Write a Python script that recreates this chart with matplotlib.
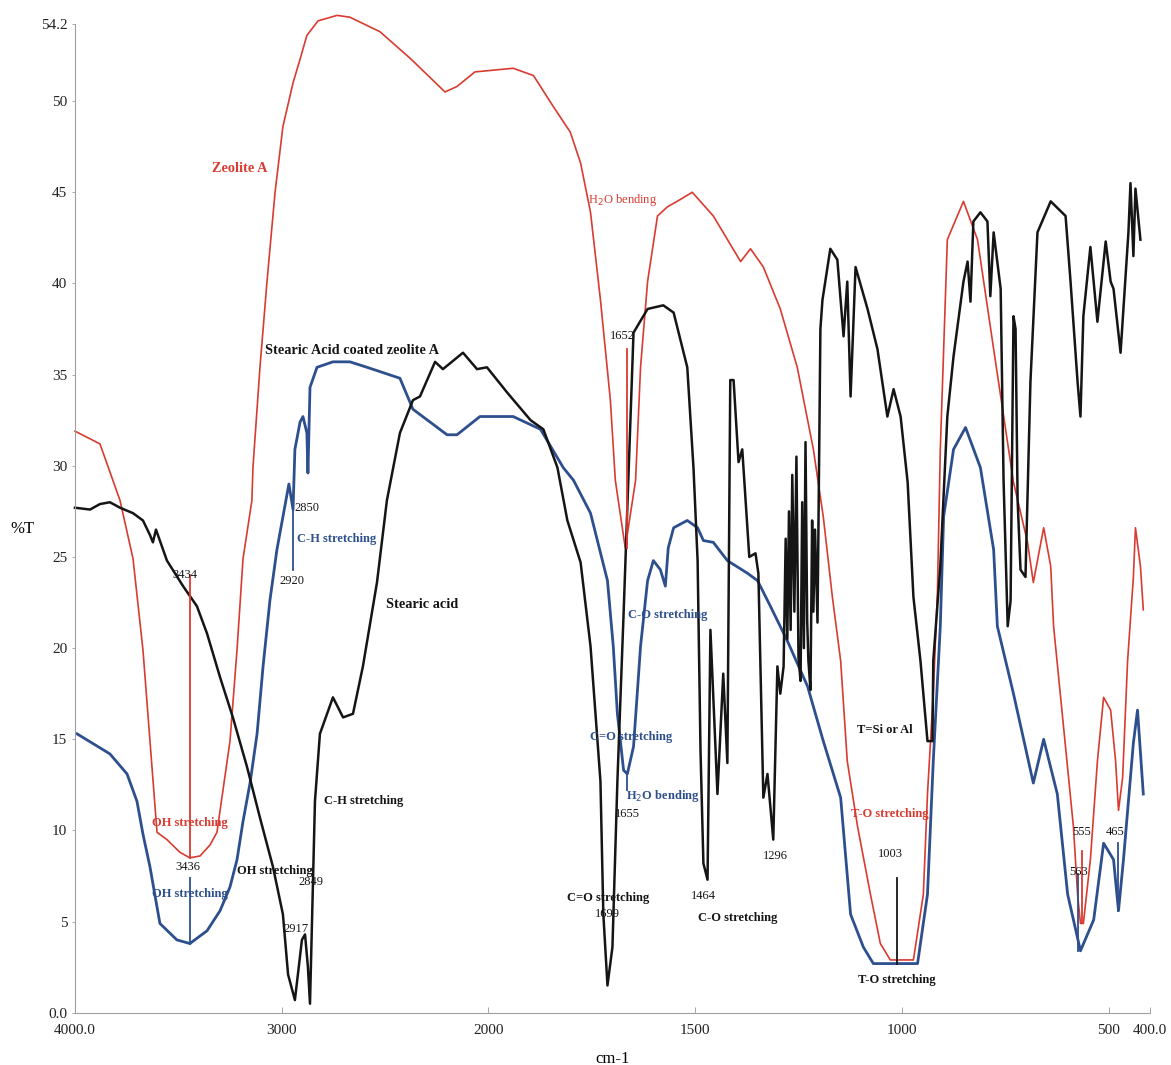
import numpy as np
import matplotlib
matplotlib.use("Agg")
import matplotlib.pyplot as plt

plt.rcParams['font.family'] = ['Liberation Serif', 'DejaVu Serif']

# Zeolite A (red)
zeo_wn = [4000, 3879, 3782, 3719, 3671, 3637, 3603, 3555, 3492, 3444, 3395, 3347, 3313,
          3250, 3216, 3187, 3144, 3139, 3105, 3071, 3032, 2994, 2945, 2911, 2878, 2824,
          2732, 2670, 2524, 2394, 2365, 2210, 2152, 2065, 1940, 1891, 1843, 1802, 1777,
          1753, 1729, 1705, 1693, 1669, 1644, 1632, 1615, 1591, 1567, 1536, 1507, 1456,
          1390, 1366, 1335, 1294, 1253, 1214, 1190, 1168, 1148, 1132, 1107, 1076, 1052,
          1028, 972, 948, 938, 924, 914, 907, 890, 851, 817, 778, 730, 696, 682, 657,
          640, 633, 609, 585, 575, 568, 561, 544, 527, 512, 495, 483, 476, 466, 454,
          440, 435, 423, 416]
zeo_t = [31.9, 31.2, 28.1, 24.9, 19.9, 14.9, 9.9, 9.5, 8.8, 8.5, 8.6, 9.2, 9.9,
         14.9, 19.9, 24.9, 28.1, 29.9, 35.4, 40.1, 45.0, 48.6, 51.0, 52.3, 53.6, 54.4,
         54.7, 54.6, 53.8, 52.5, 52.2, 50.5, 50.8, 51.6, 51.8, 51.4, 49.7, 48.3, 46.6,
         43.9, 39.1, 33.6, 29.2, 25.5, 29.2, 35.4, 40.1, 43.7, 44.2, 44.6, 45.0, 43.7,
         41.2, 41.9, 40.9, 38.6, 35.4, 30.9, 27.2, 22.8, 19.3, 13.8, 10.2, 6.5, 3.8,
         2.9, 2.9, 6.5, 12.0, 17.5, 23.0, 30.9, 42.4, 44.5, 42.4, 36.4, 29.1, 25.8, 23.6, 26.6,
         24.5, 21.2, 15.7, 10.2, 6.5, 4.9, 4.9, 8.4, 13.8, 17.3, 16.6, 13.8, 11.1, 12.9, 19.3,
         23.9, 26.6, 24.5, 22.1]

# Stearic acid coated zeolite A (blue)
coat_wn = [3990, 3831, 3748, 3700, 3671, 3637, 3589, 3507, 3444, 3361, 3298, 3250, 3216,
           3187, 3153, 3119, 3090, 3057, 3023, 2994, 2965, 2945, 2936, 2911, 2897, 2878,
           2873, 2863, 2829, 2752, 2670, 2587, 2428, 2365, 2200, 2152, 2041, 1940, 1874,
           1819, 1794, 1753, 1712, 1698, 1688, 1673, 1664, 1649, 1632, 1615, 1601, 1584,
           1572, 1565, 1552, 1519, 1494, 1480, 1456, 1422, 1373, 1349, 1318, 1277, 1228,
           1190, 1148, 1124, 1093, 1069, 962, 938, 924, 907, 899, 875, 846, 810, 778, 769,
           730, 682, 657, 624, 599, 568, 536, 512, 488, 476, 464, 440, 430, 416]
coat_t = [15.3, 14.2, 13.1, 11.6, 9.8, 8.0, 4.9, 4.0, 3.8, 4.5, 5.6, 6.9, 8.4,
          10.5, 12.6, 15.3, 19.0, 22.6, 25.4, 27.2, 29.0, 27.6, 30.9, 32.4, 32.7, 31.8,
          29.6, 34.3, 35.4, 35.7, 35.7, 35.4, 34.8, 33.1, 31.7, 31.7, 32.7, 32.7, 32.0,
          29.9, 29.2, 27.4, 23.7, 20.1, 16.4, 13.3, 13.1, 14.6, 20.1, 23.7, 24.8, 24.3,
          23.4, 25.5, 26.6, 27.0, 26.6, 25.9, 25.8, 24.8, 24.1, 23.7, 22.3, 20.4, 17.9,
          14.9, 11.8, 5.4, 3.6, 2.7, 2.7, 6.5, 13.8, 21.2, 27.2, 30.9, 32.1, 29.9, 25.4, 21.2,
          17.5, 12.6, 15.0, 12.0, 6.5, 3.4, 5.1, 9.3, 8.4, 5.6, 8.4, 14.8, 16.6, 12.0]

# Stearic acid (black)
sa_wn = [4000, 3927, 3879, 3831, 3782, 3719, 3671, 3637, 3623, 3608, 3555, 3477, 3410,
         3361, 3298, 3236, 3168, 3105, 3042, 2994, 2969, 2936, 2902, 2887, 2873, 2863,
         2839, 2815, 2752, 2703, 2655, 2607, 2539, 2491, 2428, 2365, 2331, 2258, 2220,
         2123, 2055, 2007, 1954, 1898, 1867, 1833, 1809, 1777, 1753, 1729, 1722, 1712,
         1700, 1688, 1673, 1649, 1615, 1577, 1552, 1519, 1504, 1494, 1487, 1480, 1470,
         1463, 1446, 1432, 1422, 1415, 1407, 1395, 1386, 1369, 1354, 1347, 1335, 1325,
         1311, 1301, 1294, 1286, 1281, 1277, 1273, 1269, 1265, 1260, 1255, 1250, 1245,
         1241, 1237, 1233, 1229, 1226, 1221, 1217, 1214, 1210, 1204, 1197, 1192, 1173,
         1156, 1141, 1132, 1124, 1112, 1083, 1059, 1035,
         1020, 1003, 986, 972, 955, 938, 926, 924, 907, 890, 875, 851, 841, 834, 827,
         810, 793, 786, 778, 761, 754, 744, 737, 730, 725, 720, 713, 701, 689, 672, 640,
         604, 592, 575, 568, 561, 544, 527, 507, 495, 488, 471, 464, 452, 447, 440, 435, 423]
sa_t = [27.7, 27.6, 27.9, 28.0, 27.7, 27.4, 27.0, 26.2, 25.8, 26.5, 24.8, 23.4, 22.3,
        20.8, 18.4, 16.2, 13.5, 10.7, 8.0, 5.4, 2.1, 0.7, 4.0, 4.3, 2.5, 0.5,
        11.6, 15.3, 17.3, 16.2, 16.4, 19.0, 23.6, 28.1, 31.8, 33.6, 33.8, 35.7, 35.3,
        36.2, 35.3, 35.4, 34.0, 32.5, 32.0, 29.9, 27.0, 24.7, 20.1, 12.7, 5.4, 1.5,
        3.6, 12.7, 21.9, 37.3, 38.6, 38.8, 38.4, 35.4, 29.9, 24.8, 14.4, 8.2, 7.3,
        21.0, 12.0, 18.6, 13.7, 34.7, 34.7, 30.2, 30.9, 25.0, 25.2, 24.1, 11.8, 13.1,
        9.5, 19.0, 17.5, 19.0, 26.0, 20.5, 27.5, 21.0, 29.5, 22.0, 30.5, 19.5, 18.2,
        28.0, 20.0, 31.3, 21.5, 19.3, 17.7, 27.0, 22.0, 26.5, 21.4, 37.5, 39.1, 41.9,
        41.3, 37.1, 40.1, 33.8, 40.9, 38.6, 36.4, 32.7,
        34.2, 32.7, 29.1, 22.8, 19.3, 14.9, 14.9, 19.3, 24.5, 32.7, 36.0, 40.1, 41.2, 39.0, 43.4,
        43.9, 43.4, 39.3, 42.8, 39.7, 29.2, 21.2, 22.6, 38.2, 37.5, 28.1, 24.3, 23.9, 34.6, 42.8, 44.5,
        43.7, 40.1, 34.6, 32.7, 38.2, 42.0, 37.9, 42.3, 40.1, 39.7, 36.2, 38.6, 42.8, 45.5, 41.5, 45.2, 42.4]

# peak marker lines: wavenumber, top %T, bottom %T, colour key
markers = [(3444, 24.0, 8.5, 'red'), (3444, 7.4, 3.8, 'blue'), (2945, 28.1, 24.3, 'blue'),
           (1664, 36.4, 25.5, 'red'), (1664, 13.1, 12.2, 'blue'), (1011, 7.4, 2.7, 'black'),
           (565, 8.9, 4.9, 'red'), (575, 7.6, 3.4, 'blue'), (476, 9.3, 5.6, 'blue')]

# annotations: text, wavenumber, %T, colour key, bold, size
notes = [("Zeolite A", 3202, 46.3, 'red', True, 10.3),
         ("Stearic Acid coated zeolite A", 2660, 36.3, 'black', True, 10.3),
         ("2850", 2878, 27.7, 'black', False, 9),
         ("C-H stretching", 2732, 26.0, 'blue', True, 9),
         ("2920", 2950, 23.7, 'black', False, 9),
         ("3434", 3468, 24.0, 'black', False, 9),
         ("Stearic acid", 2321, 22.4, 'black', True, 10.3),
         ("C-H stretching", 2602, 11.6, 'black', True, 9),
         ("OH stretching", 3444, 10.4, 'red', True, 9),
         ("3436", 3453, 8.0, 'black', False, 9),
         ("OH stretching", 3032, 7.8, 'black', True, 9),
         ("2849", 2860, 7.2, 'black', False, 9),
         ("OH stretching", 3444, 6.5, 'blue', True, 9),
         ("2917", 2931, 4.6, 'black', False, 9),
         ("1652", 1676, 37.1, 'black', False, 9),
         ("H$_2$O bending", 1676, 44.6, 'red', False, 9),
         ("C-O stretching", 1567, 21.8, 'blue', True, 9),
         ("C=O stretching", 1654, 15.1, 'blue', True, 9),
         ("H$_2$O bending", 1577, 11.9, 'blue', True, 9),
         ("1655", 1664, 10.9, 'black', False, 9),
         ("C=O stretching", 1710, 6.3, 'black', True, 9),
         ("1699", 1712, 5.4, 'black', False, 9),
         ("1464", 1480, 6.4, 'black', False, 9),
         ("C-O stretching", 1398, 5.2, 'black', True, 9),
         ("1296", 1306, 8.6, 'black', False, 9),
         ("T=Si or Al", 1040, 15.5, 'black', True, 9),
         ("T-O stretching", 1028, 10.9, 'red', True, 9),
         ("1003", 1028, 8.7, 'black', False, 9),
         ("T-O stretching", 1013, 1.8, 'black', True, 9),
         ("555", 566, 9.9, 'black', False, 9),
         ("563", 573, 7.7, 'black', False, 9),
         ("465", 483, 9.9, 'black', False, 9)]

colors = {'red': '#d93b30', 'blue': '#2d4f8e', 'black': '#151515'}

x_ticks = [4000, 3000, 2000, 1500, 1000, 500, 400]
x_labels = ["4000.0", "3000", "2000", "1500", "1000", "500", "400.0"]
y_ticks = [0, 5, 10, 15, 20, 25, 30, 35, 40, 45, 50, 54.2]
y_labels = ["0.0", "5", "10", "15", "20", "25", "30", "35", "40", "45", "50", "54.2"]


# scale change at 2000 cm-1, like the spectrometer printout
def fwd(w):
    w = np.asarray(w, dtype=float)
    return np.where(w >= 2000, w, 2 * w - 2000)


def inv(u):
    u = np.asarray(u, dtype=float)
    return np.where(u >= 2000, u, (u + 2000) / 2)


fig = plt.figure(figsize=(11.71, 10.65), dpi=100)
ax = fig.add_axes([0.064, 0.049, 0.918, 0.928])
ax.set_xscale('function', functions=(fwd, inv))

ax.plot(zeo_wn, zeo_t, color=colors['red'], lw=1.2, clip_on=False)
ax.plot(coat_wn, coat_t, color=colors['blue'], lw=2.0, clip_on=False)
ax.plot(sa_wn, sa_t, color=colors['black'], lw=1.8, clip_on=False)

for w, top, bot, c in markers:
    ax.plot([w, w], [bot, top], color=colors[c], lw=1.3)

for txt, w, t, c, bold, size in notes:
    ax.text(w, t, txt, color=colors[c], fontsize=size, ha='center', va='center',
            fontweight='bold' if bold else 'normal')

ax.set_xlim(4000, 400)
ax.set_ylim(0, 54.2)
ax.set_xticks(x_ticks)
ax.set_xticklabels(x_labels)
ax.set_yticks(y_ticks)
ax.set_yticklabels(y_labels)
ax.minorticks_off()
ax.tick_params(axis='x', direction='in', length=4, width=0.6, colors='#999999',
               labelcolor='#222222', labelsize=11, pad=8)
ax.tick_params(axis='y', direction='out', length=2, width=0.6, colors='#999999',
               labelcolor='#222222', labelsize=11)

for side in ['top', 'right']:
    ax.spines[side].set_visible(False)
for side in ['left', 'bottom']:
    ax.spines[side].set_color('#a0a0a0')
    ax.spines[side].set_linewidth(0.8)

ax.set_xlabel("cm-1", fontsize=12, labelpad=10)
fig.text(0.019, 0.503, "%T", fontsize=12, ha='center', va='center')

fig.savefig("out.png", dpi=100)
